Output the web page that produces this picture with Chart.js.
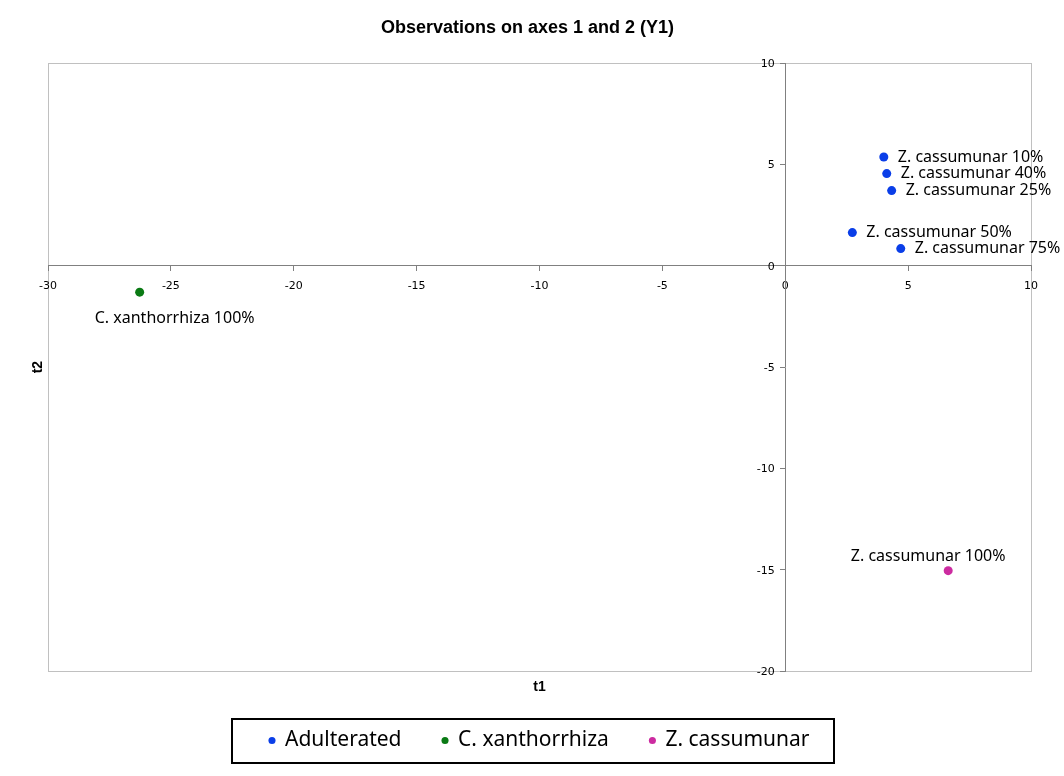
<!DOCTYPE html>
<html>
<head>
<meta charset="utf-8">
<script src="https://cdn.jsdelivr.net/npm/chart.js@4.4.0/dist/chart.umd.min.js"></script>
<style>
  html, body { margin: 0; padding: 0; background: #fff; }
</style>
</head>
<body>
<canvas id="ObsChart" width="1064" height="776"></canvas>
<script>
// observations (t1, t2)
const seriesNames = ['Adulterated', 'C. xanthorrhiza', 'Z. cassumunar'];
const seriesColors = ['#0a3ee8', '#0a7a14', '#cc2ba0'];

const adultNames = ['Z. cassumunar 10%', 'Z. cassumunar 40%', 'Z. cassumunar 25%', 'Z. cassumunar 50%', 'Z. cassumunar 75%'];
const adultT1 = [4.01, 4.13, 4.33, 2.73, 4.70];
const adultT2 = [5.37, 4.55, 3.71, 1.64, 0.85];

const xanthNames = ['C. xanthorrhiza 100%'];
const xanthT1 = [-26.27];
const xanthT2 = [-1.30];

const cassNames = ['Z. cassumunar 100%'];
const cassT1 = [6.63];
const cassT2 = [-15.04];

const xTicks = [-30, -25, -20, -15, -10, -5, 0, 5, 10];
const yTicks = [-20, -15, -10, -5, 0, 5, 10];

const toPoints = (xs, ys, names) => xs.map((x, i) => ({x, y: ys[i], name: names[i]}));

// where each series puts its point labels (pixels from the point)
const labelPlaces = [
  {align: 'left', dx: 14, dy: 0},
  {align: 'center', dx: 35, dy: 26},
  {align: 'center', dx: -20, dy: -14}
];

const pointLabels = {
  id: 'pointLabels',
  afterDatasetsDraw(chart) {
    const ctx = chart.ctx;
    ctx.save();
    ctx.font = '16px "Noto Sans"';
    ctx.fillStyle = '#000';
    ctx.textBaseline = 'middle';
    chart.data.datasets.forEach((ds, di) => {
      const place = labelPlaces[di];
      ctx.textAlign = place.align;
      chart.getDatasetMeta(di).data.forEach((pt, i) => {
        ctx.fillText(ds.data[i].name, pt.x + place.dx, pt.y + place.dy);
      });
    });
    ctx.restore();
  }
};

const frames = {
  id: 'frames',
  beforeDraw(chart) {
    const {ctx, chartArea: a} = chart;
    ctx.save();
    ctx.strokeStyle = '#c0c0c0';
    ctx.lineWidth = 1;
    ctx.strokeRect(Math.round(a.left) + 0.5, Math.round(a.top) + 0.5,
      Math.round(a.right - a.left), Math.round(a.bottom - a.top));
    ctx.restore();
  },
  afterDraw(chart) {
    const ctx = chart.ctx;
    const hb = chart.legend.legendHitBoxes;
    if (!hb || !hb.length) return;
    const l = Math.min(...hb.map(h => h.left));
    const r = Math.max(...hb.map(h => h.left + h.width));
    const cy = hb[0].top + hb[0].height / 2;
    ctx.save();
    ctx.strokeStyle = '#000';
    ctx.lineWidth = 2;
    ctx.strokeRect(Math.round(l - 37), Math.round(cy - 22), Math.round(r - l + 62), 44);
    ctx.restore();
  }
};

const tickFont = {family: 'DejaVu Sans', size: 11};
const axisTitleFont = {family: 'Liberation Sans', size: 14, weight: 'bold'};

const datasets = [
  toPoints(adultT1, adultT2, adultNames),
  toPoints(xanthT1, xanthT2, xanthNames),
  toPoints(cassT1, cassT2, cassNames)
].map((data, i) => ({
  label: seriesNames[i],
  data,
  backgroundColor: seriesColors[i],
  borderColor: seriesColors[i],
  borderWidth: 0,
  pointRadius: 4.5,
  pointStyle: 'circle'
}));

new Chart(document.getElementById('ObsChart').getContext('2d'), {
  type: 'scatter',
  data: {datasets},
  options: {
    responsive: false,
    animation: false,
    layout: {padding: {left: 24, right: 33, top: 0, bottom: 15}},
    plugins: {
      title: {
        display: true,
        text: 'Observations on axes 1 and 2 (Y1)',
        color: '#000',
        font: {family: 'Liberation Sans', size: 18, weight: 'bold'},
        padding: {top: 17.5, bottom: 24}
      },
      legend: {
        position: 'bottom',
        fullSize: false,
        labels: {
          usePointStyle: true,
          boxWidth: 5,
          boxHeight: 5,
          padding: 41,
          color: '#000',
          font: {family: 'Noto Sans', size: 21}
        }
      },
      tooltip: {enabled: false}
    },
    scales: {
      x: {
        type: 'linear',
        position: {y: 0},
        min: xTicks[0],
        max: xTicks[xTicks.length - 1],
        afterBuildTicks: s => { s.ticks = xTicks.map(v => ({value: v})); },
        ticks: {font: tickFont, color: '#000', padding: 9, maxRotation: 0, autoSkip: false},
        grid: {drawOnChartArea: false, drawTicks: true, tickLength: 5, color: '#808080'},
        border: {display: true, color: '#808080'}
      },
      y: {
        type: 'linear',
        position: {x: 0},
        min: yTicks[0],
        max: yTicks[yTicks.length - 1],
        afterBuildTicks: s => { s.ticks = yTicks.map(v => ({value: v})); },
        // labels sit against the axis line when the axis is placed by value, so pad them
        ticks: {font: tickFont, color: '#000', autoSkip: false, labelOffset: 1, callback: v => v + '   '},
        grid: {drawOnChartArea: false, drawTicks: true, tickLength: 5, color: '#808080'},
        border: {display: true, color: '#808080'}
      },
      tx: {
        type: 'linear', axis: 'x', position: 'bottom',
        min: xTicks[0], max: xTicks[xTicks.length - 1],
        ticks: {display: false},
        grid: {display: false, drawTicks: false},
        border: {display: false},
        title: {display: true, text: 't1', color: '#000', font: axisTitleFont, padding: {top: 8, bottom: -7}}
      },
      ty: {
        type: 'linear', axis: 'y', position: 'left',
        min: yTicks[0], max: yTicks[yTicks.length - 1],
        ticks: {display: false},
        grid: {display: false, drawTicks: false},
        border: {display: false},
        title: {display: true, text: 't2', color: '#000', font: axisTitleFont, padding: {top: 5.6, bottom: 1.6}}
      }
    }
  },
  plugins: [frames, pointLabels]
});
</script>
</body>
</html>
